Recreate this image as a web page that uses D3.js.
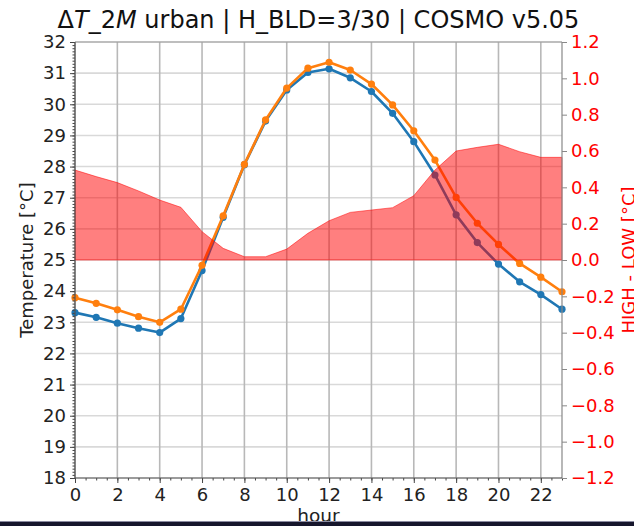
<!DOCTYPE html>
<html>
<head>
<meta charset="utf-8">
<script src="https://cdn.jsdelivr.net/npm/d3@7"></script>
<style>
  html, body { margin: 0; padding: 0; background: #fff; }
  svg { display: block; font-family: "DejaVu Sans", sans-serif; }
</style>
</head>
<body>
<svg id="chart" width="634" height="526"></svg>
<script>
// Hourly 2 m temperature, urban tile, for two building-height settings
const hours = d3.range(0, 24);
const tempLow = [23.31, 23.16, 22.97, 22.81, 22.67, 23.12, 24.66, 26.37, 28.06, 29.46,
                 30.46, 31.02, 31.14, 30.85, 30.41, 29.71, 28.80, 27.73, 26.45, 25.56,
                 24.87, 24.30, 23.89, 23.42];
const tempHigh = [23.79, 23.61, 23.40, 23.18, 23.00, 23.42, 24.83, 26.42, 28.07, 29.50,
                  30.52, 31.16, 31.35, 31.10, 30.65, 29.98, 29.15, 28.21, 27.01, 26.18,
                  25.50, 24.89, 24.45, 23.98];
// HIGH - LOW difference (right axis)
const diff = [0.495, 0.459, 0.426, 0.380, 0.330, 0.290, 0.156, 0.064, 0.018, 0.018,
              0.060, 0.147, 0.216, 0.262, 0.275, 0.288, 0.354, 0.495, 0.600, 0.620,
              0.637, 0.596, 0.565, 0.565];

const xTicks = d3.range(0, 23, 2);
const xMinorTicks = d3.range(0, 23.01, 0.5);
const yLeftTicks = d3.range(18, 32.01, 1);
const yLeftMinorTicks = d3.range(18, 32.001, 0.1).map(v => +v.toFixed(1));
const yRightTicks = d3.range(-1.2, 1.21, 0.2).map(v => +v.toFixed(1));

const plotL = 75, plotR = 562, plotT = 42, plotB = 478;
const svg = d3.select("#chart");

const x = d3.scaleLinear().domain([0, 23]).range([plotL, plotR]);
const yL = d3.scaleLinear().domain([18, 32]).range([plotB, plotT]);
const yR = d3.scaleLinear().domain([-1.2, 1.2]).range([plotB, plotT]);

const FS = 18;

// grid
const grid = svg.append("g");
grid.selectAll("line.h").data(yLeftTicks).join("line")
  .attr("x1", plotL).attr("x2", plotR)
  .attr("y1", d => yL(d)).attr("y2", d => yL(d))
  .attr("stroke", "#d9d9d9").attr("stroke-width", 1.6);
grid.selectAll("line.v").data(xTicks).join("line")
  .attr("y1", plotT).attr("y2", plotB)
  .attr("x1", d => x(d)).attr("x2", d => x(d))
  .attr("stroke", "#b8b8b8").attr("stroke-width", 1.6);

// temperature lines
const line = d3.line().x((d, i) => x(hours[i])).y(d => yL(d));
function series(vals, color) {
  svg.append("path").datum(vals)
    .attr("d", line).attr("fill", "none")
    .attr("stroke", color).attr("stroke-width", 2.6)
    .attr("stroke-linejoin", "round");
  svg.append("g").selectAll("circle").data(vals).join("circle")
    .attr("cx", (d, i) => x(hours[i])).attr("cy", d => yL(d))
    .attr("r", 3.6).attr("fill", color);
}
series(tempLow, "#1f77b4");
series(tempHigh, "#ff7f0e");

// difference area
const area = d3.area().x((d, i) => x(hours[i])).y0(yR(0)).y1(d => yR(d));
svg.append("path").datum(diff)
  .attr("d", area)
  .attr("fill", "red").attr("fill-opacity", 0.5)
  .attr("stroke", "red").attr("stroke-opacity", 0.5).attr("stroke-width", 1);

// axes
const axX = d3.axisBottom(x).tickValues(xTicks).tickSize(5).tickPadding(5);
const axXm = d3.axisBottom(x).tickValues(xMinorTicks).tickSize(2.5).tickFormat("");
const axL = d3.axisLeft(yL).tickValues(yLeftTicks).tickSize(5).tickPadding(4).tickFormat(d3.format("d"));
const axLm = d3.axisLeft(yL).tickValues(yLeftMinorTicks).tickSize(2.5).tickFormat("");
const axR = d3.axisRight(yR).tickValues(yRightTicks).tickSize(5).tickPadding(4)
  .tickFormat(d => d3.format(".1f")(d).replace("-", "\u2212"));

function style(g, color, textColor) {
  g.select(".domain").remove();
  g.selectAll(".tick line").attr("stroke", color).attr("stroke-width", 1);
  g.selectAll(".tick text").attr("fill", textColor)
    .attr("font-size", FS).attr("font-family", "DejaVu Sans");
}
svg.append("g").attr("transform", `translate(0,${plotB})`).call(axXm).call(g => style(g, "#444", "#222"));
svg.append("g").attr("transform", `translate(0,${plotB})`).call(axX).call(g => style(g, "#444", "#222"));
svg.append("g").attr("transform", `translate(${plotL},0)`).call(axLm).call(g => style(g, "#444", "#222"));
svg.append("g").attr("transform", `translate(${plotL},0)`).call(axL).call(g => style(g, "#444", "#222"));
svg.append("g").attr("transform", `translate(${plotR},0)`).call(axR).call(g => style(g, "#888", "red"));

// spines
const sp = svg.append("g").attr("fill", "none").attr("stroke-width", 1.2);
sp.append("line").attr("x1", plotL).attr("x2", plotR).attr("y1", plotT).attr("y2", plotT).attr("stroke", "#999");
sp.append("line").attr("x1", plotR).attr("x2", plotR).attr("y1", plotT).attr("y2", plotB).attr("stroke", "#888");
sp.append("line").attr("x1", plotL).attr("x2", plotL).attr("y1", plotT).attr("y2", plotB).attr("stroke", "#555");
sp.append("line").attr("x1", plotL).attr("x2", plotR).attr("y1", plotB).attr("y2", plotB).attr("stroke", "#555");

// labels
svg.append("text").attr("x", (plotL + plotR) / 2).attr("y", 521.5)
  .attr("text-anchor", "middle").attr("font-size", 18.5).attr("fill", "#222").text("hour");
svg.append("text").attr("transform", `translate(33,${(plotT + plotB) / 2}) rotate(-90)`)
  .attr("text-anchor", "middle").attr("font-size", FS).attr("fill", "#222").text("Temperature [°C]");
svg.append("text").attr("transform", `translate(635,${(plotT + plotB) / 2}) rotate(-90)`)
  .attr("text-anchor", "middle").attr("font-size", FS).attr("fill", "red").text("HIGH - LOW [°C]");

// title
const title = svg.append("text").attr("x", (plotL + plotR) / 2).attr("y", 28)
  .attr("text-anchor", "middle").attr("font-size", 24).attr("fill", "#111");
title.append("tspan").text("\u0394");
title.append("tspan").attr("font-style", "italic").text("T");
title.append("tspan").text("_2");
title.append("tspan").attr("font-style", "italic").text("M");
title.append("tspan").text(" urban | H_BLD=3/30 | COSMO v5.05");

// bottom frame strip
svg.append("rect").attr("x", 0).attr("y", 521).attr("width", 634).attr("height", 1).attr("fill", "#8a8aa0");
svg.append("rect").attr("x", 0).attr("y", 522).attr("width", 634).attr("height", 4).attr("fill", "#16162c");
</script>
</body>
</html>
